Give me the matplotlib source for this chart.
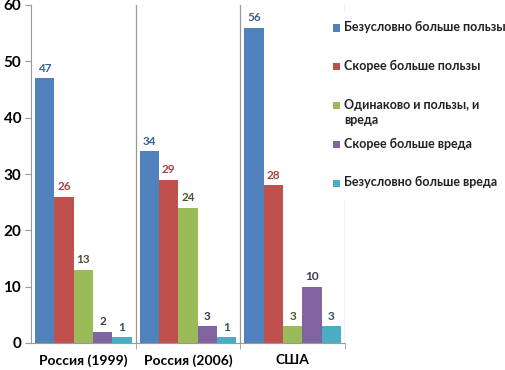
import numpy as np
import matplotlib
matplotlib.use("Agg")
from matplotlib import pyplot as plt
from matplotlib.patches import Rectangle

groups = ["Россия (1999)", "Россия (2006)", "США"]
series_names = ["Безусловно больше пользы", "Скорее больше пользы",
                "Одинаково и пользы, и\nвреда", "Скорее больше вреда",
                "Безусловно больше вреда"]
values = [
    [47, 34, 56],
    [26, 29, 28],
    [13, 24, 3],
    [2, 3, 10],
    [1, 1, 3],
]
bar_colors = ["#4F81BD", "#C0504D", "#9BBB59", "#8064A2", "#4BACC6"]
label_colors = ["#3A5F95", "#A8423F", "#4A5530", "#363A55", "#36506A"]

plt.rcParams['font.family'] = ['Lato', 'DejaVu Sans']

W, H = 506, 370
fig = plt.figure(figsize=(W/100, H/100), dpi=100)
ax = fig.add_axes([31/W, 27/H, 314/W, 338/H])

width = 0.185
x = np.arange(len(groups))
for i, vals in enumerate(values):
    pos = x - 2*width + i*width
    bars = ax.bar(pos, vals, width, color=bar_colors[i], zorder=2)
    for b, v in zip(bars, vals):
        ax.text(b.get_x() + b.get_width()/2, v + 0.8, str(v), ha="center", va="bottom",
                fontsize=8.5, fontweight="bold", color=label_colors[i])

ax.set_xlim(-0.5, 2.5)
ax.set_ylim(0, 60)
ax.set_yticks(range(0, 61, 10))
ax.set_xticks(x)
ax.set_xticklabels(groups, fontsize=10, fontweight="bold")
ax.set_xticks([0.5, 1.5, 2.5], minor=True)
for lbl in ax.get_yticklabels():
    lbl.set_fontsize(11)
    lbl.set_fontweight("bold")

# group separators
for b in [0.5, 1.5, 2.5]:
    ax.axvline(b, color="#999999", lw=0.9, zorder=1)

for s in ["top", "right"]:
    ax.spines[s].set_visible(False)
ax.spines["left"].set_color("#999999")
ax.spines["bottom"].set_color("#999999")
ax.tick_params(axis="y", length=4, color="#999999", pad=3)
ax.tick_params(axis="x", which="major", length=0, pad=8)
ax.tick_params(axis="x", which="minor", length=4, color="#999999")

# legend drawn by hand (Excel-style fixed slots), white box over the plot area
fig.patches.append(Rectangle((326/W, 1 - 200/H), 180/W, 188/H, transform=fig.transFigure,
                             facecolor="white", edgecolor="none", zorder=4))
for i, name in enumerate(series_names):
    yc = 28 + i*38.8
    fig.patches.append(Rectangle((333/W, 1 - (yc + 3.5)/H), 7/W, 7/H, transform=fig.transFigure,
                                 facecolor=bar_colors[i], edgecolor="none", zorder=5))
    fig.text(344/W, 1 - (yc - 7)/H, name, ha="left", va="top", fontsize=9,
             fontweight="bold", color="#222222", linespacing=1.3, zorder=6)

fig.savefig("out.png", dpi=100)
